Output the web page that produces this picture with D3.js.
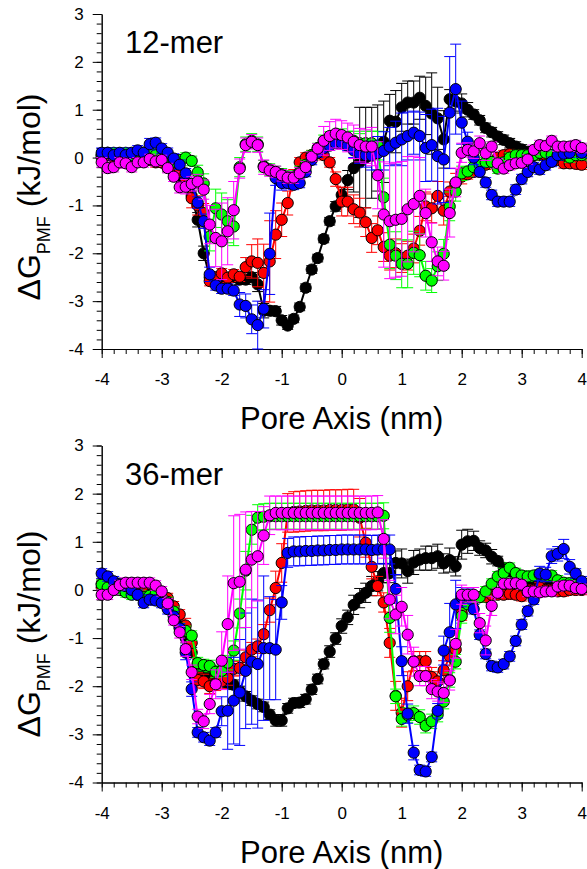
<!DOCTYPE html>
<html>
<head>
<meta charset="utf-8">
<script src="https://cdn.jsdelivr.net/npm/d3@7"></script>
<style>
    body { margin: 0; background: #fff; }
    svg { display: block; }
    text { font-family: Arial, "Liberation Sans", sans-serif; fill: #000; }
</style>
</head>
<body>
<div id="chart"></div>
<script>
// Pore axis positions (nm), shared by every series
const poreAxis = [
    -4.0, -3.9, -3.8, -3.7, -3.6, -3.5, -3.4, -3.3, -3.2, -3.1,
    -3.0, -2.9, -2.8, -2.7, -2.6, -2.5, -2.4, -2.3, -2.2, -2.1,
    -2.0, -1.9, -1.8, -1.7, -1.6, -1.5, -1.4, -1.3, -1.2, -1.1,
    -1.0, -0.9, -0.8, -0.7, -0.6, -0.5, -0.4, -0.3, -0.2, -0.1,
    0.0, 0.1, 0.2, 0.3, 0.4, 0.5, 0.6, 0.7, 0.8, 0.9,
    1.0, 1.1, 1.2, 1.3, 1.4, 1.5, 1.6, 1.7, 1.8, 1.9,
    2.0, 2.1, 2.2, 2.3, 2.4, 2.5, 2.6, 2.7, 2.8, 2.9,
    3.0, 3.1, 3.2, 3.3, 3.4, 3.5, 3.6, 3.7, 3.8, 3.9,
    4.0
];

const xTicks = [-4, -3, -2, -1, 0, 1, 2, 3, 4];
const yTicks = [-4, -3, -2, -1, 0, 1, 2, 3];

// ---- 12-mer ----
const black12 = [
    0.05, 0.05, 0.05, 0.05, 0.05, 0.05, 0.08, 0.10, 0.05, 0.00,
    -0.10, -0.20, -0.30, -0.40, -0.55, -0.80, -1.30, -2.00, -2.50, -2.55,
    -2.55, -2.55, -2.50, -2.55, -2.55, -2.50, -2.65, -3.20, -3.20, -3.21,
    -3.40, -3.51, -3.37, -3.12, -2.72, -2.34, -2.10, -1.70, -1.33, -1.02,
    -0.78, -0.47, -0.22, -0.10, 0.00, 0.10, 0.20, 0.33, 0.77, 0.75,
    1.05, 1.15, 1.15, 1.25, 1.08, 0.92, 0.82, 0.38, 1.22, 1.17,
    1.13, 1.00, 0.90, 0.78, 0.62, 0.53, 0.44, 0.37, 0.30, 0.23,
    0.17, 0.12, 0.10, 0.05, 0.05, 0.05, 0.05, 0.05, 0.05, 0.05,
    0.05
];
const black12Err = [
    0.1, 0.1, 0.1, 0.1, 0.1, 0.1, 0.1, 0.1, 0.1, 0.1,
    0.1, 0.1, 0.1, 0.1, 0.1, 0.1, 0.15, 0.15, 0.1, 0.1,
    0.1, 0.1, 0.1, 0.1, 0.1, 0.1, 0.15, 0.15, 0.1, 0.1,
    0.1, 0.08, 0.08, 0.08, 0.08, 0.08, 0.08, 0.08, 0.08, 0.1,
    0.15, 0.2, 0.5, 1.15, 1.05, 0.95, 0.9, 0.85, 0.55, 0.65,
    0.5, 0.45, 0.45, 0.45, 0.6, 0.85, 0.65, 0.6, 0.2, 0.2,
    0.2, 0.15, 0.1, 0.1, 0.1, 0.1, 0.1, 0.1, 0.1, 0.1,
    0.1, 0.1, 0.1, 0.1, 0.1, 0.1, 0.1, 0.1, 0.1, 0.1,
    0.1
];
const blue12 = [
    0.10, 0.10, 0.05, 0.10, 0.05, 0.10, 0.15, 0.10, 0.28, 0.31,
    0.19, 0.10, -0.02, -0.15, -0.33, -0.55, -0.94, -1.33, -2.44, -2.67,
    -2.74, -2.74, -2.78, -3.07, -3.10, -3.38, -3.50, -3.16, -2.01, -0.43,
    -0.53, -0.53, -0.57, -0.53, -0.30, -0.05, 0.10, 0.20, 0.25, 0.30,
    0.30, 0.25, 0.15, 0.08, 0.05, 0.04, 0.09, 0.14, 0.23, 0.31,
    0.38, 0.45, 0.52, 0.45, 0.20, 0.26, 0.03, -0.04, 0.94, 1.43,
    0.73, 0.33, 0.00, -0.30, -0.52, -0.78, -0.92, -0.92, -0.92, -0.67,
    -0.45, -0.30, -0.20, -0.25, -0.16, -0.09, 0.05, 0.08, 0.10, 0.23,
    0.10
];
const blue12Err = [
    0.1, 0.1, 0.1, 0.1, 0.1, 0.1, 0.1, 0.1, 0.12, 0.1,
    0.1, 0.1, 0.1, 0.1, 0.1, 0.1, 0.12, 0.15, 0.15, 0.1,
    0.1, 0.1, 0.1, 0.25, 0.25, 0.3, 0.5, 0.4, 0.85, 0.15,
    0.15, 0.12, 0.1, 0.1, 0.1, 0.1, 0.1, 0.1, 0.1, 0.1,
    0.1, 0.1, 0.15, 0.2, 0.25, 0.3, 0.35, 0.4, 0.4, 0.45,
    0.55, 0.5, 0.45, 0.5, 0.7, 0.75, 1.0, 0.9, 1.17, 0.94,
    0.45, 0.2, 0.15, 0.1, 0.1, 0.1, 0.1, 0.1, 0.1, 0.1,
    0.1, 0.1, 0.1, 0.1, 0.1, 0.1, 0.1, 0.1, 0.1, 0.1,
    0.1
];
const red12 = [
    0.00, 0.05, 0.00, 0.05, 0.00, 0.05, 0.00, 0.00, -0.05, -0.10,
    -0.10, -0.15, -0.20, -0.30, -0.50, -0.85, -1.00, -1.16, -2.58, -2.50,
    -2.42, -2.51, -2.44, -2.49, -2.29, -2.17, -2.20, -2.41, -2.17, -1.61,
    -1.30, -0.95, -0.40, -0.10, 0.00, 0.05, 0.10, 0.05, -0.10, -0.45,
    -0.92, -0.92, -1.08, -1.15, -1.35, -1.68, -1.52, -1.87, -2.05, -2.00,
    -2.10, -2.05, -1.90, -1.53, -1.02, -1.06, -0.80, -1.11, -0.71, -0.53,
    -0.40, -0.35, -0.30, -0.20, -0.15, -0.10, 0.00, 0.05, 0.07, 0.05,
    0.05, 0.00, 0.05, 0.10, 0.05, 0.00, -0.05, -0.12, -0.12, -0.13,
    -0.15
];
const red12Err = [
    0.1, 0.1, 0.1, 0.1, 0.1, 0.1, 0.1, 0.1, 0.1, 0.1,
    0.1, 0.1, 0.1, 0.1, 0.15, 0.2, 0.2, 0.2, 0.1, 0.1,
    0.1, 0.1, 0.1, 0.1, 0.2, 0.35, 0.5, 0.6, 0.85, 0.5,
    0.35, 0.25, 0.15, 0.1, 0.1, 0.1, 0.1, 0.1, 0.1, 0.15,
    0.3, 0.3, 0.3, 0.3, 0.3, 0.3, 0.3, 0.3, 0.3, 0.3,
    0.3, 0.3, 0.3, 0.3, 0.3, 0.3, 0.3, 0.3, 0.2, 0.2,
    0.15, 0.1, 0.1, 0.1, 0.1, 0.1, 0.1, 0.1, 0.1, 0.1,
    0.1, 0.1, 0.1, 0.1, 0.1, 0.1, 0.1, 0.1, 0.1, 0.1,
    0.1
];
const green12 = [
    0.05, 0.10, 0.10, 0.05, 0.10, 0.05, 0.05, 0.10, 0.10, 0.05,
    0.00, -0.05, -0.10, -0.05, 0.00, -0.07, -0.31, -0.54, -1.65, -1.06,
    -1.19, -1.33, -1.44, -0.20, 0.28, 0.35, 0.28, -0.18, -0.25, -0.30,
    -0.35, -0.40, -0.40, -0.30, -0.15, 0.05, 0.20, 0.35, 0.42, 0.45,
    0.45, 0.40, 0.35, 0.30, 0.30, 0.30, 0.25, -0.83, -1.82, -2.05,
    -2.22, -2.22, -1.99, -2.04, -2.47, -2.57, -2.27, -2.01, -1.02, -0.71,
    -0.33, -0.29, -0.20, -0.15, -0.10, -0.09, -0.23, -0.10, 0.00, 0.05,
    0.05, 0.05, 0.05, 0.10, 0.10, 0.05, 0.05, 0.05, 0.00, 0.05,
    0.05
];
const green12Err = [
    0.1, 0.1, 0.1, 0.1, 0.1, 0.1, 0.1, 0.1, 0.1, 0.1,
    0.1, 0.1, 0.1, 0.1, 0.1, 0.1, 0.15, 0.2, 0.3, 0.4,
    0.45, 0.45, 0.4, 0.2, 0.15, 0.15, 0.15, 0.12, 0.12, 0.12,
    0.12, 0.12, 0.12, 0.12, 0.1, 0.1, 0.1, 0.12, 0.12, 0.12,
    0.15, 0.15, 0.2, 0.2, 0.25, 0.25, 0.3, 0.4, 0.5, 0.5,
    0.5, 0.5, 0.45, 0.45, 0.3, 0.25, 0.3, 0.3, 0.3, 0.2,
    0.15, 0.1, 0.1, 0.1, 0.1, 0.1, 0.1, 0.1, 0.1, 0.1,
    0.1, 0.1, 0.1, 0.1, 0.1, 0.1, 0.1, 0.1, 0.1, 0.1,
    0.1
];
const magenta12 = [
    -0.10, -0.22, -0.20, -0.10, -0.12, -0.20, -0.10, -0.10, -0.03, -0.08,
    -0.05, -0.22, -0.40, -0.62, -0.61, -0.55, -0.50, -0.67, -1.40, -1.68,
    -1.75, -1.54, -1.10, -0.23, 0.26, 0.33, 0.26, -0.20, -0.27, -0.30,
    -0.37, -0.42, -0.42, -0.33, -0.20, 0.02, 0.19, 0.35, 0.45, 0.50,
    0.47, 0.42, 0.33, 0.26, 0.23, 0.23, -0.37, -1.19, -1.33, -1.30,
    -1.28, -1.08, -0.97, -0.80, -1.16, -1.77, -2.17, -2.26, -1.16, -0.52,
    0.10, 0.16, 0.13, 0.30, 0.09, 0.23, -0.12, -0.23, -0.16, -0.12,
    -0.11, -0.04, 0.16, 0.26, 0.24, 0.35, 0.23, 0.23, 0.23, 0.26,
    0.20
];
const magenta12Err = [
    0.1, 0.1, 0.1, 0.1, 0.1, 0.1, 0.1, 0.1, 0.1, 0.1,
    0.1, 0.1, 0.1, 0.12, 0.15, 0.15, 0.15, 0.2, 0.4, 0.6,
    0.8, 0.7, 0.6, 0.2, 0.15, 0.15, 0.15, 0.15, 0.12, 0.12,
    0.12, 0.12, 0.12, 0.12, 0.12, 0.1, 0.1, 0.3, 0.3, 0.3,
    0.3, 0.3, 0.35, 0.35, 0.35, 0.4, 0.7, 1.1, 1.2, 1.2,
    1.2, 1.1, 1.0, 0.8, 0.5, 0.4, 0.3, 0.3, 0.5, 0.3,
    0.2, 0.15, 0.15, 0.15, 0.15, 0.1, 0.1, 0.1, 0.1, 0.1,
    0.1, 0.1, 0.1, 0.1, 0.1, 0.1, 0.1, 0.1, 0.1, 0.1,
    0.1
];

// ---- 36-mer ----
const black36 = [
    0.05, 0.05, 0.00, 0.00, 0.00, 0.00, -0.05, -0.10, -0.10, -0.15,
    -0.20, -0.30, -0.50, -0.75, -1.00, -1.30, -1.55, -1.70, -1.80, -1.85,
    -1.90, -1.93, -1.97, -2.10, -2.21, -2.30, -2.37, -2.43, -2.59, -2.71,
    -2.71, -2.46, -2.35, -2.34, -2.27, -2.07, -1.85, -1.54, -1.28, -1.01,
    -0.75, -0.57, -0.31, -0.17, -0.06, 0.08, 0.18, 0.35, 0.35, 0.56,
    0.55, 0.39, 0.57, 0.63, 0.66, 0.66, 0.70, 0.55, 0.62, 0.49,
    0.94, 1.01, 1.02, 0.87, 0.82, 0.69, 0.60, 0.46, 0.39, 0.30,
    0.25, 0.20, 0.15, 0.10, 0.10, 0.05, 0.05, 0.05, 0.05, 0.05,
    0.05
];
const black36Err = [
    0.1, 0.1, 0.1, 0.1, 0.1, 0.1, 0.1, 0.1, 0.1, 0.1,
    0.1, 0.1, 0.1, 0.1, 0.1, 0.1, 0.1, 0.1, 0.1, 0.1,
    0.1, 0.1, 0.1, 0.1, 0.1, 0.1, 0.1, 0.1, 0.1, 0.12,
    0.12, 0.1, 0.1, 0.1, 0.1, 0.1, 0.1, 0.1, 0.12, 0.12,
    0.15, 0.15, 0.2, 0.2, 0.2, 0.2, 0.2, 0.2, 0.2, 0.25,
    0.3, 0.25, 0.25, 0.22, 0.25, 0.25, 0.25, 0.2, 0.25, 0.2,
    0.3, 0.25, 0.2, 0.15, 0.15, 0.15, 0.1, 0.1, 0.1, 0.1,
    0.1, 0.1, 0.1, 0.1, 0.1, 0.1, 0.1, 0.1, 0.1, 0.1,
    0.1
];
const blue36 = [
    0.34, 0.28, 0.18, 0.13, 0.08, 0.00, -0.10, -0.27, -0.20, -0.22,
    -0.27, -0.40, -0.55, -0.80, -1.30, -2.06, -2.96, -3.06, -3.13, -2.96,
    -2.52, -2.51, -2.30, -2.13, -1.68, -1.49, -1.54, -1.21, -1.21, -1.24,
    -0.26, 0.77, 0.80, 0.80, 0.81, 0.81, 0.82, 0.82, 0.83, 0.83,
    0.84, 0.84, 0.84, 0.84, 0.84, 0.83, 0.84, 0.84, 0.84, 0.02,
    -1.48, -2.57, -3.38, -3.74, -3.77, -3.47, -2.51, -1.26, -0.88, -0.30,
    -0.15, -0.13, -0.40, -0.93, -1.33, -1.58, -1.61, -1.54, -1.38, -1.06,
    -0.72, -0.44, -0.20, 0.34, 0.32, 0.70, 0.75, 0.85, 0.48, 0.34,
    0.18
];
const blue36Err = [
    0.1, 0.1, 0.1, 0.1, 0.1, 0.1, 0.1, 0.1, 0.1, 0.1,
    0.1, 0.1, 0.1, 0.1, 0.15, 0.15, 0.1, 0.1, 0.1, 0.1,
    0.3, 0.8, 0.9, 1.1, 1.2, 1.3, 1.33, 1.5, 1.07, 1.04,
    0.35, 0.3, 0.3, 0.3, 0.3, 0.3, 0.3, 0.3, 0.3, 0.3,
    0.3, 0.3, 0.3, 0.3, 0.3, 0.3, 0.3, 0.3, 0.3, 0.3,
    0.3, 0.2, 0.15, 0.1, 0.1, 0.1, 0.15, 0.3, 0.6, 0.5,
    0.2, 0.15, 0.1, 0.1, 0.1, 0.1, 0.1, 0.1, 0.1, 0.1,
    0.1, 0.1, 0.1, 0.15, 0.15, 0.15, 0.15, 0.2, 0.15, 0.1,
    0.1
];
const red36 = [
    0.13, 0.10, 0.05, 0.05, 0.00, 0.00, -0.05, -0.05, -0.10, -0.10,
    -0.12, -0.17, -0.34, -0.51, -0.74, -1.10, -1.87, -1.90, -2.00, -1.94,
    -1.90, -1.83, -1.64, -1.62, -1.40, -1.24, -1.17, -0.92, -0.42, 0.04,
    0.56, 1.60, 1.62, 1.63, 1.64, 1.65, 1.65, 1.65, 1.66, 1.66,
    1.66, 1.67, 1.67, 1.50, 0.98, 0.48, 0.08, -0.26, -1.10, -2.20,
    -2.55, -2.00, -1.48, -1.48, -1.48, -1.81, -1.90, -1.67, -1.38, -1.24,
    -0.48, -0.27, -0.20, -0.15, -0.15, -0.10, -0.10, -0.10, -0.08, -0.10,
    -0.13, -0.05, 0.00, 0.05, 0.00, 0.00, -0.03, -0.03, 0.00, 0.00,
    0.00
];
const red36Err = [
    0.1, 0.1, 0.1, 0.1, 0.1, 0.1, 0.1, 0.1, 0.1, 0.1,
    0.1, 0.1, 0.1, 0.1, 0.15, 0.15, 0.15, 0.15, 0.15, 0.15,
    0.15, 0.15, 0.15, 0.15, 0.15, 0.15, 0.15, 0.2, 0.25, 0.35,
    0.4, 0.4, 0.42, 0.42, 0.42, 0.42, 0.42, 0.42, 0.42, 0.42,
    0.42, 0.42, 0.42, 0.4, 0.3, 0.25, 0.2, 0.2, 0.3, 0.3,
    0.3, 0.3, 0.2, 0.2, 0.2, 0.2, 0.2, 0.2, 0.2, 0.2,
    0.15, 0.1, 0.1, 0.1, 0.1, 0.1, 0.1, 0.1, 0.1, 0.1,
    0.1, 0.1, 0.1, 0.1, 0.1, 0.1, 0.1, 0.1, 0.1, 0.1,
    0.1
];
const green36 = [
    0.11, 0.05, 0.00, 0.00, -0.05, -0.10, -0.10, -0.15, -0.12, -0.08,
    -0.15, -0.25, -0.45, -0.79, -0.85, -0.95, -1.52, -1.56, -1.58, -1.70,
    -1.68, -1.51, -1.26, -0.49, 0.40, 1.25, 1.50, 1.52, 1.53, 1.53,
    1.53, 1.53, 1.53, 1.53, 1.53, 1.53, 1.53, 1.53, 1.53, 1.53,
    1.53, 1.53, 1.53, 1.53, 1.53, 1.53, 1.53, 1.54, -0.58, -2.21,
    -2.68, -2.60, -2.56, -2.64, -2.82, -2.73, -2.59, -2.32, -1.87, -1.49,
    -0.54, -0.30, -0.20, -0.15, -0.03, 0.13, 0.28, 0.35, 0.46, 0.35,
    0.30, 0.28, 0.30, 0.32, 0.28, 0.30, 0.20, 0.15, 0.14, 0.10,
    0.07
];
const green36Err = [
    0.1, 0.1, 0.1, 0.1, 0.1, 0.1, 0.1, 0.1, 0.1, 0.1,
    0.1, 0.1, 0.1, 0.1, 0.1, 0.1, 0.12, 0.12, 0.12, 0.12,
    0.12, 0.15, 0.2, 0.3, 0.4, 0.3, 0.27, 0.27, 0.27, 0.27,
    0.27, 0.27, 0.27, 0.27, 0.27, 0.27, 0.27, 0.27, 0.27, 0.27,
    0.27, 0.27, 0.27, 0.27, 0.27, 0.27, 0.27, 0.27, 0.3, 0.15,
    0.15, 0.15, 0.15, 0.15, 0.15, 0.15, 0.15, 0.15, 0.15, 0.15,
    0.15, 0.1, 0.1, 0.1, 0.1, 0.1, 0.1, 0.1, 0.1, 0.1,
    0.1, 0.1, 0.1, 0.1, 0.1, 0.1, 0.1, 0.1, 0.1, 0.1,
    0.1
];
const magenta36 = [
    -0.10, -0.10, 0.00, 0.10, 0.15, 0.15, 0.15, 0.15, 0.15, 0.09,
    -0.03, -0.28, -0.63, -0.88, -1.23, -1.71, -2.63, -2.73, -2.37, -1.96,
    -1.47, -0.71, 0.14, 0.17, 0.42, 0.63, 0.70, 1.13, 1.55, 1.60,
    1.60, 1.60, 1.60, 1.60, 1.60, 1.60, 1.60, 1.60, 1.60, 1.60,
    1.60, 1.60, 1.60, 1.60, 1.60, 1.60, 1.61, 1.06, -0.20, -0.51,
    -0.35, -0.93, -1.49, -1.79, -1.79, -2.06, -2.11, -2.14, -1.88, -1.12,
    -0.10, -0.10, -0.10, -0.69, -1.05, -0.33, -0.06, 0.13, 0.13, 0.14,
    0.11, -0.04, -0.03, -0.05, -0.03, -0.03, 0.07, 0.09, 0.09, 0.04,
    0.02
];
const magenta36Err = [
    0.1, 0.1, 0.1, 0.1, 0.1, 0.1, 0.1, 0.1, 0.1, 0.1,
    0.1, 0.1, 0.1, 0.12, 0.15, 0.15, 0.15, 0.15, 0.2, 0.3,
    0.6, 1.0, 1.4, 1.4, 1.2, 1.0, 0.93, 0.6, 0.4, 0.35,
    0.35, 0.35, 0.35, 0.35, 0.35, 0.35, 0.35, 0.35, 0.35, 0.35,
    0.35, 0.35, 0.35, 0.35, 0.35, 0.35, 0.35, 0.4, 0.4, 0.4,
    0.4, 0.4, 0.3, 0.2, 0.2, 0.2, 0.2, 0.2, 0.2, 0.3,
    0.2, 0.15, 0.15, 0.2, 0.3, 0.2, 0.1, 0.1, 0.1, 0.1,
    0.1, 0.1, 0.1, 0.1, 0.1, 0.1, 0.1, 0.1, 0.1, 0.1,
    0.1
];

// Layout
const config = {
    width: 587,
    height: 869,
    left: 101.7,
    right: 581.7,
    markerRadius: 5.6,
    capHalf: 5.5
};

const panels = [
    {
        label: '12-mer', top: 14, bottom: 349, titleCenter: 197,
        series: [
            { color: '#000000', values: black12, errors: black12Err },
            { color: '#ff0000', values: red12, errors: red12Err },
            { color: '#00ff00', values: green12, errors: green12Err },
            { color: '#0000ff', values: blue12, errors: blue12Err },
            { color: '#ff00ff', values: magenta12, errors: magenta12Err }
        ]
    },
    {
        label: '36-mer', top: 445.5, bottom: 782.5, titleCenter: 634,
        series: [
            { color: '#000000', values: black36, errors: black36Err },
            { color: '#ff0000', values: red36, errors: red36Err },
            { color: '#00ff00', values: green36, errors: green36Err },
            { color: '#0000ff', values: blue36, errors: blue36Err },
            { color: '#ff00ff', values: magenta36, errors: magenta36Err }
        ]
    }
];

const svg = d3.select('#chart')
    .append('svg')
    .attr('width', config.width)
    .attr('height', config.height);

const minorX = d3.range(-4, 4.001, 0.2).map(d => +d.toFixed(1));
const minorY = d3.range(-4, 3.001, 0.2).map(d => +d.toFixed(1));

panels.forEach(panel => {
    const x = d3.scaleLinear().domain([-4, 4]).range([config.left, config.right]);
    const y = d3.scaleLinear().domain([-4, 3]).range([panel.bottom, panel.top]);
    const g = svg.append('g');

    // Minor ticks
    g.append('g')
        .attr('transform', `translate(0,${panel.bottom})`)
        .call(d3.axisBottom(x).tickValues(minorX).tickSize(5).tickSizeOuter(0).tickFormat(''));
    g.append('g')
        .attr('transform', `translate(${config.left},0)`)
        .call(d3.axisLeft(y).tickValues(minorY).tickSize(5).tickSizeOuter(0).tickFormat(''));

    // Major ticks with labels
    const xAxis = g.append('g')
        .attr('transform', `translate(0,${panel.bottom})`)
        .call(d3.axisBottom(x).tickValues(xTicks).tickSize(9).tickSizeOuter(0)
            .tickPadding(15).tickFormat(d => String(d)));
    const yAxis = g.append('g')
        .attr('transform', `translate(${config.left},0)`)
        .call(d3.axisLeft(y).tickValues(yTicks).tickSize(9).tickSizeOuter(0)
            .tickPadding(9).tickFormat(d => String(d)));

    [xAxis, yAxis].forEach(a => {
        a.selectAll('text').style('font-size', '17px').attr('fill', '#000');
        a.selectAll('line, path').attr('stroke', '#000').attr('stroke-width', 1);
    });
    g.selectAll('.domain').attr('stroke', '#000');

    // Axis titles
    g.append('text')
        .attr('x', (config.left + config.right) / 2)
        .attr('y', panel.bottom + 80)
        .attr('text-anchor', 'middle')
        .style('font-size', '31px')
        .text('Pore Axis (nm)');

    const yt = g.append('text')
        .attr('transform', `translate(40,${panel.titleCenter}) rotate(-90)`)
        .attr('text-anchor', 'middle')
        .style('font-size', '32px');
    yt.append('tspan').text('\u0394G');
    yt.append('tspan').attr('dy', 10).style('font-size', '18px').text('PMF');
    yt.append('tspan').attr('dy', -10).text(' (kJ/mol)');

    // Panel label
    g.append('text')
        .attr('x', 125)
        .attr('y', panel.top + 39)
        .style('font-size', '31px')
        .text(panel.label);

    // Series: error bars, connecting line, markers
    const line = d3.line().x(d => x(d.x)).y(d => y(d.v));
    panel.series.forEach(s => {
        const pts = poreAxis.map((p, i) => ({ x: p, v: s.values[i], e: s.errors[i] }));
        const sg = g.append('g');

        const bars = sg.selectAll('g.err')
            .data(pts)
            .join('g')
            .attr('class', 'err')
            .attr('stroke', s.color)
            .attr('stroke-width', 1);
        bars.append('line')
            .attr('x1', d => x(d.x)).attr('x2', d => x(d.x))
            .attr('y1', d => y(d.v + d.e)).attr('y2', d => y(d.v - d.e));
        bars.append('line')
            .attr('x1', d => x(d.x) - config.capHalf).attr('x2', d => x(d.x) + config.capHalf)
            .attr('y1', d => y(d.v + d.e)).attr('y2', d => y(d.v + d.e));
        bars.append('line')
            .attr('x1', d => x(d.x) - config.capHalf).attr('x2', d => x(d.x) + config.capHalf)
            .attr('y1', d => y(d.v - d.e)).attr('y2', d => y(d.v - d.e));

        sg.append('path')
            .datum(pts)
            .attr('d', line)
            .attr('fill', 'none')
            .attr('stroke', s.color)
            .attr('stroke-width', 2);

        sg.selectAll('circle')
            .data(pts)
            .join('circle')
            .attr('cx', d => x(d.x))
            .attr('cy', d => y(d.v))
            .attr('r', config.markerRadius)
            .attr('fill', s.color)
            .attr('stroke', '#000')
            .attr('stroke-width', 1);
    });
});
</script>
</body>
</html>
